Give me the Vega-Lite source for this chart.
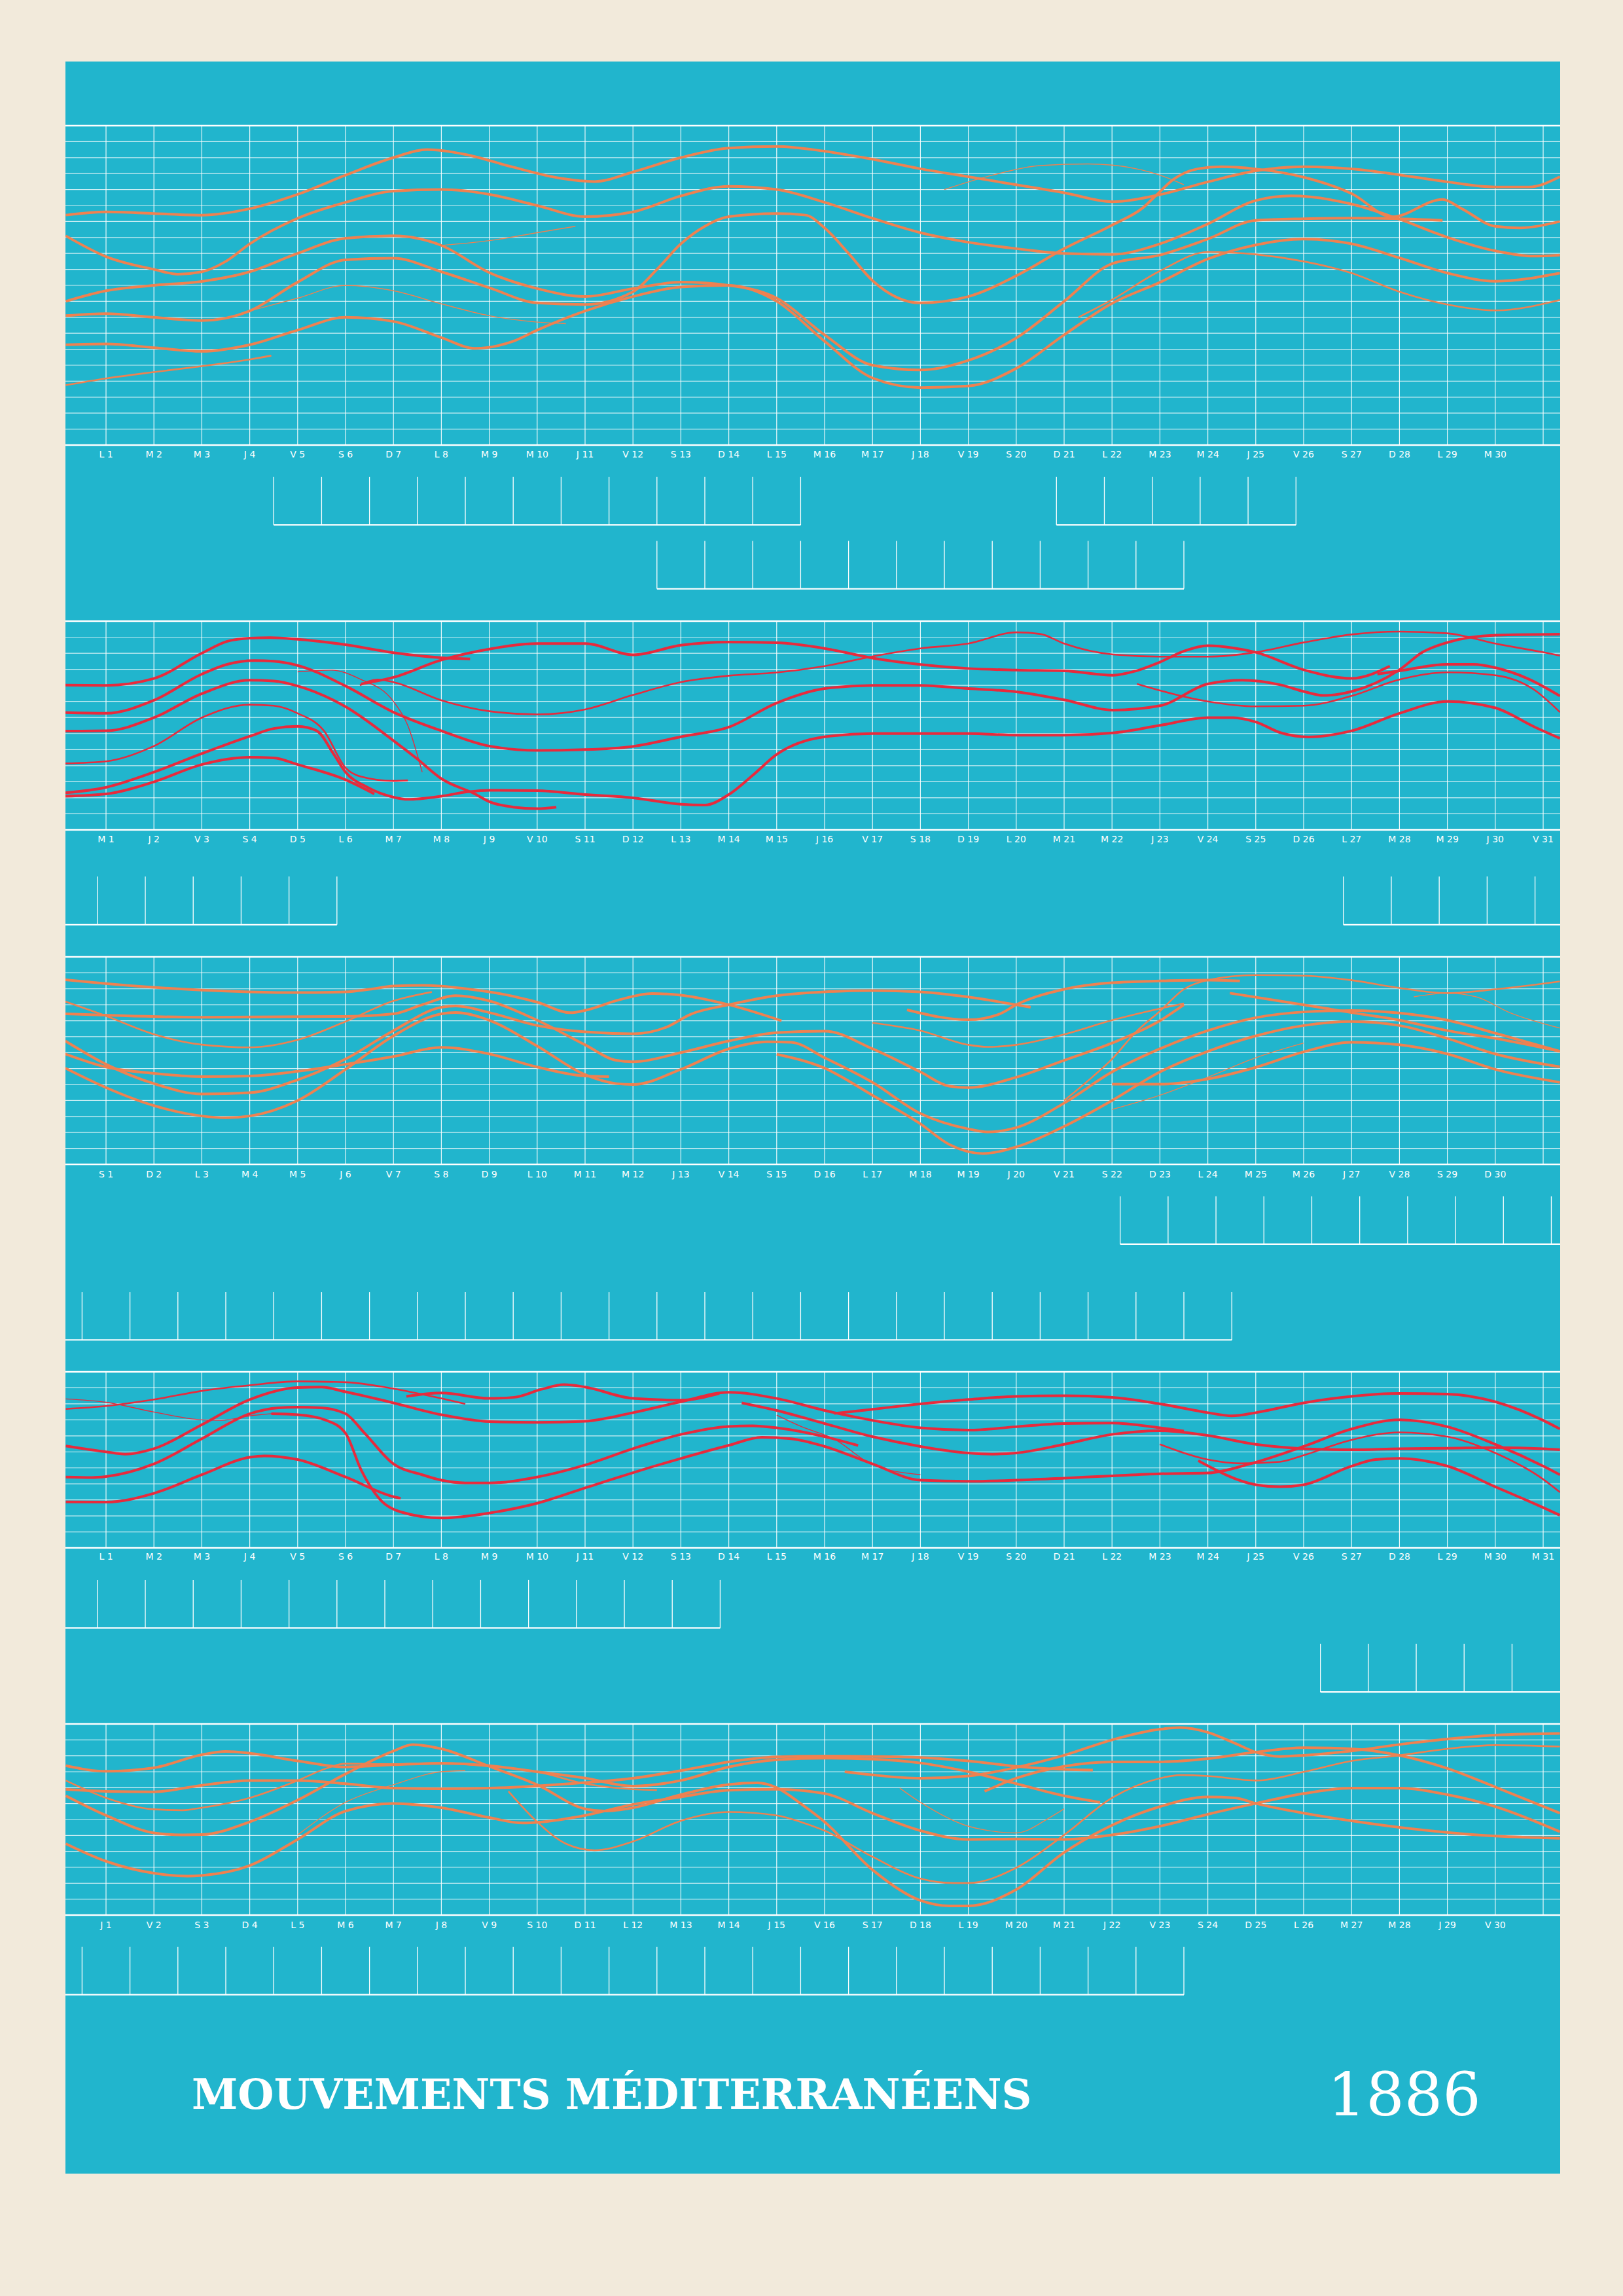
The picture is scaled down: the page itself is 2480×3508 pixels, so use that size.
{
"$schema":"https://vega.github.io/schema/vega-lite/v6.json",
"background":"#F2EADB",
"padding":{"left":98,"top":94,"right":98,"bottom":187},
"spacing":0,
"bounds":"flush",
"config":{"view":{"stroke":null,"fill":"#21B5CD"},"axis":{"disable":true}},
"datasets":{
"days":[{"d":1},{"d":2},{"d":3},{"d":4},{"d":5},{"d":6},{"d":7},{"d":8},{"d":9},{"d":10},{"d":11},{"d":12},{"d":13},{"d":14},{"d":15},{"d":16},{"d":17},{"d":18},{"d":19},{"d":20},{"d":21},{"d":22},{"d":23},{"d":24},{"d":25},{"d":26},{"d":27},{"d":28},{"d":29},{"d":30},{"d":31}],
"levels":[{"v":0},{"v":1},{"v":2},{"v":3},{"v":4},{"v":5},{"v":6},{"v":7},{"v":8},{"v":9},{"v":10},{"v":11},{"v":12},{"v":13},{"v":14},{"v":15},{"v":16},{"v":17},{"v":18},{"v":19},{"v":20}],
"lab1":[{"d":1,"t":"L 1"},{"d":2,"t":"M 2"},{"d":3,"t":"M 3"},{"d":4,"t":"J 4"},{"d":5,"t":"V 5"},{"d":6,"t":"S 6"},{"d":7,"t":"D 7"},{"d":8,"t":"L 8"},{"d":9,"t":"M 9"},{"d":10,"t":"M 10"},{"d":11,"t":"J 11"},{"d":12,"t":"V 12"},{"d":13,"t":"S 13"},{"d":14,"t":"D 14"},{"d":15,"t":"L 15"},{"d":16,"t":"M 16"},{"d":17,"t":"M 17"},{"d":18,"t":"J 18"},{"d":19,"t":"V 19"},{"d":20,"t":"S 20"},{"d":21,"t":"D 21"},{"d":22,"t":"L 22"},{"d":23,"t":"M 23"},{"d":24,"t":"M 24"},{"d":25,"t":"J 25"},{"d":26,"t":"V 26"},{"d":27,"t":"S 27"},{"d":28,"t":"D 28"},{"d":29,"t":"L 29"},{"d":30,"t":"M 30"}],
"lab2":[{"d":1,"t":"M 1"},{"d":2,"t":"J 2"},{"d":3,"t":"V 3"},{"d":4,"t":"S 4"},{"d":5,"t":"D 5"},{"d":6,"t":"L 6"},{"d":7,"t":"M 7"},{"d":8,"t":"M 8"},{"d":9,"t":"J 9"},{"d":10,"t":"V 10"},{"d":11,"t":"S 11"},{"d":12,"t":"D 12"},{"d":13,"t":"L 13"},{"d":14,"t":"M 14"},{"d":15,"t":"M 15"},{"d":16,"t":"J 16"},{"d":17,"t":"V 17"},{"d":18,"t":"S 18"},{"d":19,"t":"D 19"},{"d":20,"t":"L 20"},{"d":21,"t":"M 21"},{"d":22,"t":"M 22"},{"d":23,"t":"J 23"},{"d":24,"t":"V 24"},{"d":25,"t":"S 25"},{"d":26,"t":"D 26"},{"d":27,"t":"L 27"},{"d":28,"t":"M 28"},{"d":29,"t":"M 29"},{"d":30,"t":"J 30"},{"d":31,"t":"V 31"}],
"lab3":[{"d":1,"t":"S 1"},{"d":2,"t":"D 2"},{"d":3,"t":"L 3"},{"d":4,"t":"M 4"},{"d":5,"t":"M 5"},{"d":6,"t":"J 6"},{"d":7,"t":"V 7"},{"d":8,"t":"S 8"},{"d":9,"t":"D 9"},{"d":10,"t":"L 10"},{"d":11,"t":"M 11"},{"d":12,"t":"M 12"},{"d":13,"t":"J 13"},{"d":14,"t":"V 14"},{"d":15,"t":"S 15"},{"d":16,"t":"D 16"},{"d":17,"t":"L 17"},{"d":18,"t":"M 18"},{"d":19,"t":"M 19"},{"d":20,"t":"J 20"},{"d":21,"t":"V 21"},{"d":22,"t":"S 22"},{"d":23,"t":"D 23"},{"d":24,"t":"L 24"},{"d":25,"t":"M 25"},{"d":26,"t":"M 26"},{"d":27,"t":"J 27"},{"d":28,"t":"V 28"},{"d":29,"t":"S 29"},{"d":30,"t":"D 30"}],
"lab4":[{"d":1,"t":"L 1"},{"d":2,"t":"M 2"},{"d":3,"t":"M 3"},{"d":4,"t":"J 4"},{"d":5,"t":"V 5"},{"d":6,"t":"S 6"},{"d":7,"t":"D 7"},{"d":8,"t":"L 8"},{"d":9,"t":"M 9"},{"d":10,"t":"M 10"},{"d":11,"t":"J 11"},{"d":12,"t":"V 12"},{"d":13,"t":"S 13"},{"d":14,"t":"D 14"},{"d":15,"t":"L 15"},{"d":16,"t":"M 16"},{"d":17,"t":"M 17"},{"d":18,"t":"J 18"},{"d":19,"t":"V 19"},{"d":20,"t":"S 20"},{"d":21,"t":"D 21"},{"d":22,"t":"L 22"},{"d":23,"t":"M 23"},{"d":24,"t":"M 24"},{"d":25,"t":"J 25"},{"d":26,"t":"V 26"},{"d":27,"t":"S 27"},{"d":28,"t":"D 28"},{"d":29,"t":"L 29"},{"d":30,"t":"M 30"},{"d":31,"t":"M 31"}],
"lab5":[{"d":1,"t":"J 1"},{"d":2,"t":"V 2"},{"d":3,"t":"S 3"},{"d":4,"t":"D 4"},{"d":5,"t":"L 5"},{"d":6,"t":"M 6"},{"d":7,"t":"M 7"},{"d":8,"t":"J 8"},{"d":9,"t":"V 9"},{"d":10,"t":"S 10"},{"d":11,"t":"D 11"},{"d":12,"t":"L 12"},{"d":13,"t":"M 13"},{"d":14,"t":"M 14"},{"d":15,"t":"J 15"},{"d":16,"t":"V 16"},{"d":17,"t":"S 17"},{"d":18,"t":"D 18"},{"d":19,"t":"L 19"},{"d":20,"t":"M 20"},{"d":21,"t":"M 21"},{"d":22,"t":"J 22"},{"d":23,"t":"V 23"},{"d":24,"t":"S 24"},{"d":25,"t":"D 25"},{"d":26,"t":"L 26"},{"d":27,"t":"M 27"},{"d":28,"t":"M 28"},{"d":29,"t":"J 29"},{"d":30,"t":"V 30"}],
"tk1":[{"d":4.5,"a":-2,"b":-5},{"d":5.5,"a":-2,"b":-5},{"d":6.5,"a":-2,"b":-5},{"d":7.5,"a":-2,"b":-5},{"d":8.5,"a":-2,"b":-5},{"d":9.5,"a":-2,"b":-5},{"d":10.5,"a":-2,"b":-5},{"d":11.5,"a":-2,"b":-5},{"d":12.5,"a":-2,"b":-5},{"d":13.5,"a":-2,"b":-5},{"d":14.5,"a":-2,"b":-5},{"d":15.5,"a":-2,"b":-5},{"d":20.84,"a":-2,"b":-5},{"d":21.84,"a":-2,"b":-5},{"d":22.84,"a":-2,"b":-5},{"d":23.84,"a":-2,"b":-5},{"d":24.84,"a":-2,"b":-5},{"d":25.84,"a":-2,"b":-5},{"d":12.5,"a":-6,"b":-9},{"d":13.5,"a":-6,"b":-9},{"d":14.5,"a":-6,"b":-9},{"d":15.5,"a":-6,"b":-9},{"d":16.5,"a":-6,"b":-9},{"d":17.5,"a":-6,"b":-9},{"d":18.5,"a":-6,"b":-9},{"d":19.5,"a":-6,"b":-9},{"d":20.5,"a":-6,"b":-9},{"d":21.5,"a":-6,"b":-9},{"d":22.5,"a":-6,"b":-9},{"d":23.5,"a":-6,"b":-9}],
"bl1":[{"x0":4.5,"x1":15.5,"b":-5},{"x0":20.84,"x1":25.84,"b":-5},{"x0":12.5,"x1":23.5,"b":-9}],
"tk2":[{"d":0.82,"a":-2.9,"b":-5.9},{"d":1.82,"a":-2.9,"b":-5.9},{"d":2.82,"a":-2.9,"b":-5.9},{"d":3.82,"a":-2.9,"b":-5.9},{"d":4.82,"a":-2.9,"b":-5.9},{"d":5.82,"a":-2.9,"b":-5.9},{"d":26.83,"a":-2.9,"b":-5.9},{"d":27.83,"a":-2.9,"b":-5.9},{"d":28.83,"a":-2.9,"b":-5.9},{"d":29.83,"a":-2.9,"b":-5.9},{"d":30.83,"a":-2.9,"b":-5.9}],
"bl2":[{"x0":0.153,"x1":5.82,"b":-5.9},{"x0":26.83,"x1":31.355,"b":-5.9}],
"tk3":[{"d":22.17,"a":-2,"b":-5},{"d":23.17,"a":-2,"b":-5},{"d":24.17,"a":-2,"b":-5},{"d":25.17,"a":-2,"b":-5},{"d":26.17,"a":-2,"b":-5},{"d":27.17,"a":-2,"b":-5},{"d":28.17,"a":-2,"b":-5},{"d":29.17,"a":-2,"b":-5},{"d":30.17,"a":-2,"b":-5},{"d":31.17,"a":-2,"b":-5},{"d":0.5,"a":-8,"b":-11},{"d":1.5,"a":-8,"b":-11},{"d":2.5,"a":-8,"b":-11},{"d":3.5,"a":-8,"b":-11},{"d":4.5,"a":-8,"b":-11},{"d":5.5,"a":-8,"b":-11},{"d":6.5,"a":-8,"b":-11},{"d":7.5,"a":-8,"b":-11},{"d":8.5,"a":-8,"b":-11},{"d":9.5,"a":-8,"b":-11},{"d":10.5,"a":-8,"b":-11},{"d":11.5,"a":-8,"b":-11},{"d":12.5,"a":-8,"b":-11},{"d":13.5,"a":-8,"b":-11},{"d":14.5,"a":-8,"b":-11},{"d":15.5,"a":-8,"b":-11},{"d":16.5,"a":-8,"b":-11},{"d":17.5,"a":-8,"b":-11},{"d":18.5,"a":-8,"b":-11},{"d":19.5,"a":-8,"b":-11},{"d":20.5,"a":-8,"b":-11},{"d":21.5,"a":-8,"b":-11},{"d":22.5,"a":-8,"b":-11},{"d":23.5,"a":-8,"b":-11},{"d":24.5,"a":-8,"b":-11}],
"bl3":[{"x0":22.17,"x1":31.355,"b":-5},{"x0":0.153,"x1":24.5,"b":-11}],
"tk4":[{"d":0.82,"a":-2,"b":-5},{"d":1.82,"a":-2,"b":-5},{"d":2.82,"a":-2,"b":-5},{"d":3.82,"a":-2,"b":-5},{"d":4.82,"a":-2,"b":-5},{"d":5.82,"a":-2,"b":-5},{"d":6.82,"a":-2,"b":-5},{"d":7.82,"a":-2,"b":-5},{"d":8.82,"a":-2,"b":-5},{"d":9.82,"a":-2,"b":-5},{"d":10.82,"a":-2,"b":-5},{"d":11.82,"a":-2,"b":-5},{"d":12.82,"a":-2,"b":-5},{"d":13.82,"a":-2,"b":-5},{"d":26.35,"a":-6,"b":-9},{"d":27.35,"a":-6,"b":-9},{"d":28.35,"a":-6,"b":-9},{"d":29.35,"a":-6,"b":-9},{"d":30.35,"a":-6,"b":-9}],
"bl4":[{"x0":0.153,"x1":13.82,"b":-5},{"x0":26.35,"x1":31.355,"b":-9}],
"tk5":[{"d":0.5,"a":-2,"b":-5},{"d":1.5,"a":-2,"b":-5},{"d":2.5,"a":-2,"b":-5},{"d":3.5,"a":-2,"b":-5},{"d":4.5,"a":-2,"b":-5},{"d":5.5,"a":-2,"b":-5},{"d":6.5,"a":-2,"b":-5},{"d":7.5,"a":-2,"b":-5},{"d":8.5,"a":-2,"b":-5},{"d":9.5,"a":-2,"b":-5},{"d":10.5,"a":-2,"b":-5},{"d":11.5,"a":-2,"b":-5},{"d":12.5,"a":-2,"b":-5},{"d":13.5,"a":-2,"b":-5},{"d":14.5,"a":-2,"b":-5},{"d":15.5,"a":-2,"b":-5},{"d":16.5,"a":-2,"b":-5},{"d":17.5,"a":-2,"b":-5},{"d":18.5,"a":-2,"b":-5},{"d":19.5,"a":-2,"b":-5},{"d":20.5,"a":-2,"b":-5},{"d":21.5,"a":-2,"b":-5},{"d":22.5,"a":-2,"b":-5},{"d":23.5,"a":-2,"b":-5}],
"bl5":[{"x0":0.153,"x1":23.5,"b":-5}],
"m1":[
{"s":"A","d":0.16,"v":14.4},{"s":"A","d":1,"v":14.6},{"s":"A","d":2,"v":14.5},{"s":"A","d":3,"v":14.4},{"s":"A","d":4,"v":14.8},{"s":"A","d":5,"v":15.7},{"s":"A","d":6,"v":16.9},{"s":"A","d":7,"v":18.0},{"s":"A","d":7.7,"v":18.5},{"s":"A","d":8.5,"v":18.2},{"s":"A","d":9.5,"v":17.4},{"s":"A","d":10.5,"v":16.7},{"s":"A","d":11.2,"v":16.5},{"s":"A","d":12,"v":17.1},{"s":"A","d":13,"v":18.0},{"s":"A","d":14,"v":18.6},{"s":"A","d":15,"v":18.7},{"s":"A","d":16,"v":18.4},{"s":"A","d":17,"v":17.9},{"s":"A","d":18,"v":17.3},{"s":"A","d":19,"v":16.8},{"s":"A","d":20,"v":16.3},{"s":"A","d":21,"v":15.8},{"s":"A","d":22,"v":15.24},{"s":"A","d":23,"v":15.68},{"s":"A","d":24,"v":16.48},{"s":"A","d":25,"v":17.17},{"s":"A","d":26,"v":17.43},{"s":"A","d":27,"v":17.29},{"s":"A","d":28,"v":16.92},{"s":"A","d":29,"v":16.48},{"s":"A","d":30,"v":16.16},{"s":"A","d":30.7,"v":16.16},{"s":"A","d":31.35,"v":16.8},
{"s":"B","d":0.16,"v":13.1},{"s":"B","d":1,"v":11.8},{"s":"B","d":2,"v":11.0},{"s":"B","d":2.5,"v":10.7},{"s":"B","d":3,"v":10.85},{"s":"B","d":3.5,"v":11.5},{"s":"B","d":4,"v":12.6},{"s":"B","d":5,"v":14.2},{"s":"B","d":6,"v":15.2},{"s":"B","d":7,"v":15.9},{"s":"B","d":8,"v":16.0},{"s":"B","d":9,"v":15.7},{"s":"B","d":10,"v":15.0},{"s":"B","d":11,"v":14.3},{"s":"B","d":12,"v":14.6},{"s":"B","d":13,"v":15.6},{"s":"B","d":14,"v":16.2},{"s":"B","d":15,"v":16.0},{"s":"B","d":16,"v":15.2},{"s":"B","d":17,"v":14.2},{"s":"B","d":18,"v":13.3},{"s":"B","d":19,"v":12.7},{"s":"B","d":20,"v":12.3},{"s":"B","d":21,"v":12.0},{"s":"B","d":22,"v":11.94},{"s":"B","d":23,"v":12.6},{"s":"B","d":24,"v":13.85},{"s":"B","d":25,"v":15.31},{"s":"B","d":25.74,"v":15.6},{"s":"B","d":27,"v":15.09},{"s":"B","d":28,"v":14.14},{"s":"B","d":29,"v":13.01},{"s":"B","d":30,"v":12.16},{"s":"B","d":30.8,"v":11.83},{"s":"B","d":31.35,"v":11.9},
{"s":"C","d":0.16,"v":9.0},{"s":"C","d":1,"v":9.66},{"s":"C","d":2,"v":10.0},{"s":"C","d":3,"v":10.25},{"s":"C","d":4,"v":10.85},{"s":"C","d":5,"v":12.0},{"s":"C","d":6,"v":12.95},{"s":"C","d":7,"v":13.1},{"s":"C","d":8,"v":12.5},{"s":"C","d":9,"v":10.8},{"s":"C","d":10,"v":9.8},{"s":"C","d":11,"v":9.3},{"s":"C","d":12,"v":9.8},{"s":"C","d":13,"v":10.2},{"s":"C","d":14,"v":10.0},{"s":"C","d":15,"v":9.2},{"s":"C","d":16,"v":6.9},{"s":"C","d":17,"v":5.0},{"s":"C","d":18,"v":4.7},{"s":"C","d":19,"v":5.3},{"s":"C","d":20,"v":6.7},{"s":"C","d":21,"v":9.0},{"s":"C","d":22,"v":11.36},{"s":"C","d":23,"v":11.9},{"s":"C","d":24,"v":12.9},{"s":"C","d":25,"v":14.07},{"s":"C","d":26,"v":14.17},{"s":"C","d":27,"v":14.21},{"s":"C","d":28,"v":14.17},{"s":"C","d":28.9,"v":14.07},
{"s":"D","d":0.16,"v":8.1},{"s":"D","d":1,"v":8.23},{"s":"D","d":2,"v":8.0},{"s":"D","d":3,"v":7.8},{"s":"D","d":4,"v":8.4},{"s":"D","d":5,"v":10.2},{"s":"D","d":6,"v":11.6},{"s":"D","d":7,"v":11.7},{"s":"D","d":8,"v":10.85},{"s":"D","d":9,"v":9.85},{"s":"D","d":10,"v":8.9},{"s":"D","d":11,"v":8.8},{"s":"D","d":12,"v":9.6},{"s":"D","d":12.5,"v":11.0},{"s":"D","d":13,"v":12.6},{"s":"D","d":13.5,"v":13.7},{"s":"D","d":14,"v":14.3},{"s":"D","d":15,"v":14.5},{"s":"D","d":15.6,"v":14.4},{"s":"D","d":16,"v":13.6},{"s":"D","d":16.5,"v":12.0},{"s":"D","d":17,"v":10.3},{"s":"D","d":18,"v":8.9},{"s":"D","d":19,"v":9.3},{"s":"D","d":20,"v":10.6},{"s":"D","d":21,"v":12.3},{"s":"D","d":22,"v":13.77},{"s":"D","d":22.65,"v":14.87},{"s":"D","d":22.96,"v":15.75},{"s":"D","d":23.28,"v":16.63},{"s":"D","d":23.78,"v":17.29},{"s":"D","d":24.28,"v":17.43},{"s":"D","d":25,"v":17.29},{"s":"D","d":26,"v":16.77},{"s":"D","d":27,"v":15.75},{"s":"D","d":27.85,"v":14.29},{"s":"D","d":28.9,"v":15.38},{"s":"D","d":29.3,"v":14.8},{"s":"D","d":30,"v":13.7},{"s":"D","d":30.5,"v":13.6},{"s":"D","d":31.35,"v":14.0},
{"s":"E","d":0.16,"v":6.28},{"s":"E","d":1,"v":6.33},{"s":"E","d":2,"v":6.1},{"s":"E","d":3,"v":5.87},{"s":"E","d":4,"v":6.28},{"s":"E","d":5,"v":7.2},{"s":"E","d":6,"v":8.0},{"s":"E","d":7,"v":7.74},{"s":"E","d":8,"v":6.73},{"s":"E","d":8.7,"v":6.06},{"s":"E","d":9.5,"v":6.5},{"s":"E","d":10,"v":7.2},{"s":"E","d":11,"v":8.4},{"s":"E","d":12,"v":9.3},{"s":"E","d":13,"v":9.9},{"s":"E","d":14,"v":10.0},{"s":"E","d":15,"v":9.0},{"s":"E","d":16,"v":6.5},{"s":"E","d":17,"v":4.2},{"s":"E","d":18,"v":3.6},{"s":"E","d":19,"v":3.7},{"s":"E","d":20,"v":4.8},{"s":"E","d":21,"v":6.9},{"s":"E","d":22,"v":8.87},{"s":"E","d":23,"v":10.19},{"s":"E","d":24,"v":11.65},{"s":"E","d":25,"v":12.53},{"s":"E","d":26,"v":12.9},{"s":"E","d":27,"v":12.6},{"s":"E","d":28,"v":11.72},{"s":"E","d":29,"v":10.77},{"s":"E","d":30,"v":10.26},{"s":"E","d":31.35,"v":10.77},
{"s":"F","d":4,"v":8.4},{"s":"F","d":5,"v":9.2},{"s":"F","d":6,"v":10.0},{"s":"F","d":7,"v":9.66},{"s":"F","d":8,"v":8.84},{"s":"F","d":9,"v":8.1},{"s":"F","d":10,"v":7.7},{"s":"F","d":10.6,"v":7.6},
{"s":"G","d":0.16,"v":3.75},{"s":"G","d":1,"v":4.17},{"s":"G","d":2,"v":4.57},{"s":"G","d":3,"v":4.94},{"s":"G","d":4,"v":5.36},{"s":"G","d":4.45,"v":5.6},
{"s":"H","d":8,"v":12.5},{"s":"H","d":9,"v":12.8},{"s":"H","d":10,"v":13.3},{"s":"H","d":10.8,"v":13.7},
{"s":"T","d":18.5,"v":16.0},{"s":"T","d":19.5,"v":16.9},{"s":"T","d":20.5,"v":17.5},{"s":"T","d":21.5,"v":17.6},{"s":"T","d":22,"v":17.53},{"s":"T","d":23,"v":16.9},{"s":"T","d":23.5,"v":16.3},
{"s":"R","d":21.3,"v":8.0},{"s":"R","d":22,"v":9.1},{"s":"R","d":23,"v":10.9},{"s":"R","d":24,"v":12.09},{"s":"R","d":25,"v":11.94},{"s":"R","d":26,"v":11.5},{"s":"R","d":27,"v":10.77},{"s":"R","d":28,"v":9.6},{"s":"R","d":29,"v":8.8},{"s":"R","d":30,"v":8.43},{"s":"R","d":31.35,"v":9.09}
],
"m2":[
{"s":"R1","d":0.15,"v":9.02},{"s":"R1","d":1,"v":9.0},{"s":"R1","d":2,"v":9.43},{"s":"R1","d":3,"v":11.0},{"s":"R1","d":3.53,"v":11.74},{"s":"R1","d":4,"v":11.94},{"s":"R1","d":4.44,"v":11.97},{"s":"R1","d":5,"v":11.87},{"s":"R1","d":6,"v":11.53},{"s":"R1","d":7,"v":11.03},{"s":"R1","d":8,"v":10.72},{"s":"R1","d":8.6,"v":10.65},
{"s":"TR","d":6.32,"v":9.09},{"s":"TR","d":7,"v":9.5},{"s":"TR","d":8,"v":10.58},{"s":"TR","d":9,"v":11.26},{"s":"TR","d":10,"v":11.6},{"s":"TR","d":11,"v":11.6},{"s":"TR","d":12,"v":10.9},{"s":"TR","d":13,"v":11.5},{"s":"TR","d":14,"v":11.7},{"s":"TR","d":15,"v":11.65},{"s":"TR","d":16,"v":11.3},{"s":"TR","d":17,"v":10.7},{"s":"TR","d":18,"v":10.3},{"s":"TR","d":19,"v":10.05},{"s":"TR","d":20,"v":9.95},{"s":"TR","d":21,"v":9.9},{"s":"TR","d":22.02,"v":9.63},{"s":"TR","d":22.5,"v":9.9},{"s":"TR","d":23,"v":10.45},{"s":"TR","d":23.5,"v":11.13},{"s":"TR","d":24,"v":11.47},{"s":"TR","d":24.53,"v":11.33},{"s":"TR","d":25,"v":11.06},{"s":"TR","d":26,"v":9.97},{"s":"TR","d":27,"v":9.43},{"s":"TR","d":27.8,"v":10.2},
{"s":"R8","d":6.3,"v":9.0},{"s":"R8","d":6.67,"v":9.36},{"s":"R8","d":7,"v":9.2},{"s":"R8","d":8,"v":8.07},{"s":"R8","d":9,"v":7.39},{"s":"R8","d":10,"v":7.19},{"s":"R8","d":11,"v":7.5},{"s":"R8","d":12,"v":8.4},{"s":"R8","d":13,"v":9.2},{"s":"R8","d":14,"v":9.6},{"s":"R8","d":15,"v":9.8},{"s":"R8","d":16,"v":10.2},{"s":"R8","d":17,"v":10.8},{"s":"R8","d":18,"v":11.3},{"s":"R8","d":19,"v":11.6},{"s":"R8","d":20,"v":12.3},{"s":"R8","d":20.5,"v":12.2},{"s":"R8","d":21,"v":11.6},{"s":"R8","d":22.02,"v":10.92},{"s":"R8","d":23,"v":10.79},{"s":"R8","d":24,"v":10.79},{"s":"R8","d":25,"v":11.06},{"s":"R8","d":26,"v":11.67},{"s":"R8","d":27,"v":12.17},{"s":"R8","d":28,"v":12.35},{"s":"R8","d":29,"v":12.24},{"s":"R8","d":30,"v":11.6},{"s":"R8","d":31,"v":11.06},{"s":"R8","d":31.35,"v":10.85},
{"s":"R2","d":0.15,"v":7.3},{"s":"R2","d":1,"v":7.26},{"s":"R2","d":2,"v":8.07},{"s":"R2","d":3,"v":9.7},{"s":"R2","d":3.53,"v":10.31},{"s":"R2","d":4.1,"v":10.54},{"s":"R2","d":4.5,"v":10.5},{"s":"R2","d":5,"v":10.24},{"s":"R2","d":6,"v":8.96},{"s":"R2","d":7,"v":7.33},{"s":"R2","d":8,"v":6.17},{"s":"R2","d":9,"v":5.22},{"s":"R2","d":10,"v":4.95},{"s":"R2","d":11,"v":5.0},{"s":"R2","d":12,"v":5.2},{"s":"R2","d":13,"v":5.8},{"s":"R2","d":14,"v":6.4},{"s":"R2","d":15,"v":7.9},{"s":"R2","d":16,"v":8.8},{"s":"R2","d":17,"v":9.0},{"s":"R2","d":18,"v":9.0},{"s":"R2","d":19,"v":8.8},{"s":"R2","d":20,"v":8.6},{"s":"R2","d":21,"v":8.1},{"s":"R2","d":22.02,"v":7.46},{"s":"R2","d":23,"v":7.73},{"s":"R2","d":24,"v":9.09},{"s":"R2","d":24.72,"v":9.32},{"s":"R2","d":25.53,"v":9.02},{"s":"R2","d":26,"v":8.62},{"s":"R2","d":26.41,"v":8.37},{"s":"R2","d":27,"v":8.62},{"s":"R2","d":28,"v":9.97},{"s":"R2","d":28.48,"v":11.06},{"s":"R2","d":29,"v":11.67},{"s":"R2","d":30,"v":12.12},{"s":"R2","d":31.35,"v":12.18},
{"s":"R3","d":0.15,"v":6.15},{"s":"R3","d":1,"v":6.17},{"s":"R3","d":2,"v":6.99},{"s":"R3","d":3,"v":8.48},{"s":"R3","d":4,"v":9.32},{"s":"R3","d":4.5,"v":9.27},{"s":"R3","d":5,"v":8.96},{"s":"R3","d":6,"v":7.67},{"s":"R3","d":7,"v":5.56},{"s":"R3","d":7.5,"v":4.41},{"s":"R3","d":8,"v":3.19},{"s":"R3","d":8.7,"v":2.24},{"s":"R3","d":9,"v":1.76},{"s":"R3","d":9.5,"v":1.42},{"s":"R3","d":10,"v":1.32},{"s":"R3","d":10.4,"v":1.42},
{"s":"R4","d":0.15,"v":4.14},{"s":"R4","d":1,"v":4.27},{"s":"R4","d":2,"v":5.22},{"s":"R4","d":3,"v":6.99},{"s":"R4","d":4,"v":7.8},{"s":"R4","d":4.5,"v":7.73},{"s":"R4","d":5,"v":7.26},{"s":"R4","d":5.55,"v":6.17},{"s":"R4","d":6,"v":3.87},{"s":"R4","d":6.32,"v":3.32},{"s":"R4","d":7,"v":3.05},{"s":"R4","d":7.3,"v":3.08},
{"s":"R5","d":0.15,"v":2.31},{"s":"R5","d":1,"v":2.65},{"s":"R5","d":2,"v":3.6},{"s":"R5","d":3,"v":4.75},{"s":"R5","d":4,"v":5.83},{"s":"R5","d":4.5,"v":6.31},{"s":"R5","d":5,"v":6.45},{"s":"R5","d":5.4,"v":6.17},{"s":"R5","d":5.76,"v":4.68},{"s":"R5","d":6,"v":3.6},{"s":"R5","d":6.46,"v":2.65},{"s":"R5","d":7,"v":2.04},{"s":"R5","d":7.3,"v":1.9},{"s":"R5","d":8,"v":2.1},{"s":"R5","d":8.55,"v":2.37},{"s":"R5","d":9,"v":2.47},{"s":"R5","d":10,"v":2.44},{"s":"R5","d":11,"v":2.2},{"s":"R5","d":12,"v":2.0},{"s":"R5","d":13,"v":1.6},{"s":"R5","d":13.5,"v":1.55},{"s":"R5","d":14,"v":2.2},{"s":"R5","d":14.5,"v":3.4},{"s":"R5","d":15,"v":4.7},{"s":"R5","d":16,"v":5.8},{"s":"R5","d":17,"v":6.0},{"s":"R5","d":18,"v":6.0},{"s":"R5","d":19,"v":6.0},{"s":"R5","d":20,"v":5.9},{"s":"R5","d":21,"v":5.9},{"s":"R5","d":22.02,"v":6.04},{"s":"R5","d":23,"v":6.51},{"s":"R5","d":24,"v":6.99},{"s":"R5","d":24.53,"v":6.99},{"s":"R5","d":25,"v":6.72},{"s":"R5","d":25.53,"v":6.04},{"s":"R5","d":26.1,"v":5.79},{"s":"R5","d":27,"v":6.17},{"s":"R5","d":28,"v":7.26},{"s":"R5","d":29,"v":8.0},{"s":"R5","d":30,"v":7.6},{"s":"R5","d":30.8,"v":6.44},{"s":"R5","d":31.35,"v":5.7},
{"s":"R6","d":0.15,"v":2.1},{"s":"R6","d":1,"v":2.24},{"s":"R6","d":2,"v":2.99},{"s":"R6","d":3,"v":4.07},{"s":"R6","d":4,"v":4.52},{"s":"R6","d":4.5,"v":4.48},{"s":"R6","d":5,"v":4.07},{"s":"R6","d":6,"v":3.12},{"s":"R6","d":6.6,"v":2.24},
{"s":"R7","d":5,"v":9.84},{"s":"R7","d":5.7,"v":9.95},{"s":"R7","d":6.3,"v":9.4},{"s":"R7","d":7,"v":8.0},{"s":"R7","d":7.3,"v":6.5},{"s":"R7","d":7.6,"v":3.6},
{"s":"Z5d","d":22.52,"v":9.09},{"s":"Z5d","d":24,"v":8.0},{"s":"Z5d","d":25,"v":7.69},{"s":"Z5d","d":26,"v":7.73},{"s":"Z5d","d":27,"v":8.34},{"s":"Z5d","d":28,"v":9.36},{"s":"Z5d","d":29,"v":9.81},{"s":"Z5d","d":30,"v":9.63},{"s":"Z5d","d":30.8,"v":8.75},{"s":"Z5d","d":31.35,"v":7.33},
{"s":"Z5e","d":27.54,"v":9.7},{"s":"Z5e","d":28,"v":9.9},{"s":"Z5e","d":29,"v":10.31},{"s":"Z5e","d":29.54,"v":10.31},{"s":"Z5e","d":30,"v":10.1},{"s":"Z5e","d":30.67,"v":9.43},{"s":"Z5e","d":31.35,"v":8.34}
],
"m3":[
{"s":"L1","d":0.15,"v":11.57},{"s":"L1","d":2,"v":11.09},{"s":"L1","d":3,"v":10.92},{"s":"L1","d":4,"v":10.81},{"s":"L1","d":5,"v":10.76},{"s":"L1","d":6,"v":10.81},{"s":"L1","d":6.5,"v":10.97},{"s":"L1","d":7,"v":11.17},{"s":"L1","d":7.6,"v":11.22},{"s":"L1","d":8,"v":11.17},{"s":"L1","d":8.6,"v":10.97},{"s":"L1","d":9,"v":10.81},{"s":"L1","d":10,"v":10.16},{"s":"L1","d":10.7,"v":9.5},{"s":"L1","d":11,"v":9.65},{"s":"L1","d":11.7,"v":10.3},{"s":"L1","d":12.4,"v":10.7},{"s":"L1","d":13,"v":10.6},{"s":"L1","d":14,"v":10.0},{"s":"L1","d":15.1,"v":9.0},
{"s":"L2","d":0.15,"v":9.43},{"s":"L2","d":3,"v":9.22},{"s":"L2","d":6,"v":9.27},{"s":"L2","d":7,"v":9.43},{"s":"L2","d":7.6,"v":10.0},{"s":"L2","d":8.3,"v":10.57},{"s":"L2","d":9,"v":10.24},{"s":"L2","d":10,"v":9.03},{"s":"L2","d":11,"v":7.49},{"s":"L2","d":11.65,"v":6.52},{"s":"L2","d":12,"v":6.43},{"s":"L2","d":13,"v":7.0},{"s":"L2","d":14,"v":7.73},{"s":"L2","d":15,"v":8.25},{"s":"L2","d":16,"v":8.35},{"s":"L2","d":17,"v":7.24},{"s":"L2","d":18,"v":5.79},{"s":"L2","d":18.6,"v":4.9},{"s":"L2","d":19,"v":4.81},{"s":"L2","d":20,"v":5.46},{"s":"L2","d":21,"v":6.52},{"s":"L2","d":22,"v":7.6},{"s":"L2","d":23,"v":9.0},{"s":"L2","d":23.5,"v":10.0},
{"s":"L3","d":0.15,"v":10.2},{"s":"L3","d":1,"v":9.3},{"s":"L3","d":2,"v":8.15},{"s":"L3","d":3,"v":7.5},{"s":"L3","d":4,"v":7.33},{"s":"L3","d":5,"v":7.8},{"s":"L3","d":6,"v":8.95},{"s":"L3","d":7,"v":10.24},{"s":"L3","d":7.8,"v":10.8},
{"s":"L4","d":0.15,"v":6.92},{"s":"L4","d":1,"v":6.1},{"s":"L4","d":2,"v":5.7},{"s":"L4","d":3,"v":5.5},{"s":"L4","d":4,"v":5.54},{"s":"L4","d":5,"v":5.83},{"s":"L4","d":6,"v":6.27},{"s":"L4","d":7,"v":6.76},{"s":"L4","d":8,"v":7.33},{"s":"L4","d":9,"v":6.92},{"s":"L4","d":10,"v":6.1},{"s":"L4","d":11,"v":5.54},{"s":"L4","d":11.5,"v":5.5},
{"s":"L5","d":0.15,"v":7.73},{"s":"L5","d":1,"v":6.27},{"s":"L5","d":2,"v":5.06},{"s":"L5","d":3,"v":4.41},{"s":"L5","d":4,"v":4.49},{"s":"L5","d":5,"v":5.3},{"s":"L5","d":6,"v":6.6},{"s":"L5","d":7,"v":8.38},{"s":"L5","d":8,"v":9.84},{"s":"L5","d":8.3,"v":9.92},{"s":"L5","d":9,"v":9.51},{"s":"L5","d":10,"v":8.7},{"s":"L5","d":11,"v":8.3},{"s":"L5","d":12,"v":8.18},{"s":"L5","d":12.7,"v":8.6},{"s":"L5","d":13.2,"v":9.4},{"s":"L5","d":14,"v":10.0},{"s":"L5","d":15,"v":10.57},{"s":"L5","d":16,"v":10.81},{"s":"L5","d":17,"v":10.89},{"s":"L5","d":18,"v":10.81},{"s":"L5","d":19,"v":10.49},{"s":"L5","d":20,"v":10.0},{"s":"L5","d":20.3,"v":9.84},
{"s":"L6","d":0.15,"v":6.03},{"s":"L6","d":1,"v":4.81},{"s":"L6","d":2,"v":3.68},{"s":"L6","d":3,"v":3.03},{"s":"L6","d":3.5,"v":2.92},{"s":"L6","d":4,"v":3.03},{"s":"L6","d":5,"v":4.0},{"s":"L6","d":6,"v":5.95},{"s":"L6","d":7,"v":8.05},{"s":"L6","d":8,"v":9.43},{"s":"L6","d":8.3,"v":9.51},{"s":"L6","d":9,"v":9.03},{"s":"L6","d":10,"v":7.41},{"s":"L6","d":11,"v":5.62},{"s":"L6","d":11.65,"v":5.06},{"s":"L6","d":12,"v":5.0},{"s":"L6","d":13,"v":5.95},{"s":"L6","d":14,"v":7.24},{"s":"L6","d":14.8,"v":7.68},{"s":"L6","d":15.3,"v":7.65},{"s":"L6","d":16,"v":6.68},{"s":"L6","d":17,"v":5.14},{"s":"L6","d":18,"v":3.19},{"s":"L6","d":19,"v":2.22},{"s":"L6","d":19.4,"v":2.03},{"s":"L6","d":20,"v":2.3},{"s":"L6","d":21,"v":3.84},{"s":"L6","d":22,"v":5.79},{"s":"L6","d":23,"v":7.24},{"s":"L6","d":24,"v":8.38},{"s":"L6","d":25,"v":9.19},{"s":"L6","d":26,"v":9.55},{"s":"L6","d":27,"v":9.64},{"s":"L6","d":28,"v":9.48},{"s":"L6","d":29,"v":9.03},{"s":"L6","d":30,"v":8.22},{"s":"L6","d":31.35,"v":7.08},
{"s":"L7","d":15,"v":6.9},{"s":"L7","d":16,"v":6.03},{"s":"L7","d":17,"v":4.33},{"s":"L7","d":18,"v":2.54},{"s":"L7","d":18.6,"v":1.25},{"s":"L7","d":19.3,"v":0.68},{"s":"L7","d":20,"v":1.09},{"s":"L7","d":21,"v":2.38},{"s":"L7","d":22,"v":4.0},{"s":"L7","d":23,"v":5.79},{"s":"L7","d":24,"v":7.08},{"s":"L7","d":25,"v":8.05},{"s":"L7","d":26,"v":8.7},{"s":"L7","d":27,"v":8.95},{"s":"L7","d":28,"v":8.7},{"s":"L7","d":29,"v":7.89},{"s":"L7","d":30,"v":6.92},{"s":"L7","d":31.35,"v":6.11},
{"s":"L8","d":17.72,"v":9.68},{"s":"L8","d":19,"v":9.06},{"s":"L8","d":19.66,"v":9.43},{"s":"L8","d":20,"v":10.0},{"s":"L8","d":21,"v":10.97},{"s":"L8","d":22,"v":11.38},{"s":"L8","d":23,"v":11.49},{"s":"L8","d":24,"v":11.54},{"s":"L8","d":24.67,"v":11.49},
{"s":"L9","d":17,"v":8.87},{"s":"L9","d":18,"v":8.38},{"s":"L9","d":19,"v":7.49},{"s":"L9","d":19.4,"v":7.36},{"s":"L9","d":20,"v":7.49},{"s":"L9","d":21,"v":8.14},{"s":"L9","d":22,"v":9.03},{"s":"L9","d":23,"v":9.76},{"s":"L9","d":23.5,"v":10.08},
{"s":"L10","d":21,"v":4.0},{"s":"L10","d":21.6,"v":5.5},{"s":"L10","d":22,"v":6.6},{"s":"L10","d":22.5,"v":8.3},{"s":"L10","d":23,"v":9.6},{"s":"L10","d":23.5,"v":10.97},{"s":"L10","d":24,"v":11.54},{"s":"L10","d":25,"v":11.86},{"s":"L10","d":26,"v":11.82},{"s":"L10","d":27,"v":11.54},{"s":"L10","d":28,"v":11.05},{"s":"L10","d":29,"v":10.73},{"s":"L10","d":30,"v":10.97},{"s":"L10","d":31.35,"v":11.46},
{"s":"L11","d":24.46,"v":10.73},{"s":"L11","d":26,"v":10.0},{"s":"L11","d":27,"v":9.51},{"s":"L11","d":28,"v":9.03},{"s":"L11","d":29,"v":8.38},{"s":"L11","d":30,"v":7.89},{"s":"L11","d":31.35,"v":7.08},
{"s":"L12","d":28.3,"v":10.5},{"s":"L12","d":29,"v":10.73},{"s":"L12","d":29.6,"v":10.5},{"s":"L12","d":30.3,"v":9.51},{"s":"L12","d":31.35,"v":8.54},
{"s":"L13","d":22,"v":5.02},{"s":"L13","d":23,"v":5.02},{"s":"L13","d":24,"v":5.35},{"s":"L13","d":25,"v":6.08},{"s":"L13","d":26,"v":7.05},{"s":"L13","d":27,"v":7.65},{"s":"L13","d":28,"v":7.49},{"s":"L13","d":29,"v":6.92},{"s":"L13","d":30,"v":5.95},{"s":"L13","d":31.35,"v":5.14},
{"s":"L14","d":22,"v":3.44},{"s":"L14","d":23,"v":4.33},{"s":"L14","d":24,"v":5.46},{"s":"L14","d":25,"v":6.68},{"s":"L14","d":26,"v":7.6}
],
"m4":[
{"s":"K1","d":0.16,"v":8.68},{"s":"K1","d":1,"v":8.86},{"s":"K1","d":2,"v":9.27},{"s":"K1","d":3,"v":9.81},{"s":"K1","d":4,"v":10.16},{"s":"K1","d":5,"v":10.4},{"s":"K1","d":6,"v":10.35},{"s":"K1","d":7,"v":9.95},{"s":"K1","d":8,"v":9.34},{"s":"K1","d":8.5,"v":9.0},
{"s":"K2","d":0.16,"v":6.37},{"s":"K2","d":1,"v":6.0},{"s":"K2","d":1.4,"v":5.86},{"s":"K2","d":2,"v":6.2},{"s":"K2","d":3,"v":7.7},{"s":"K2","d":4,"v":9.27},{"s":"K2","d":5,"v":10.02},{"s":"K2","d":5.5,"v":10.05},{"s":"K2","d":6,"v":9.75},{"s":"K2","d":7,"v":9.06},{"s":"K2","d":8,"v":8.32},{"s":"K2","d":9,"v":7.89},{"s":"K2","d":10,"v":7.84},{"s":"K2","d":11,"v":7.91},{"s":"K2","d":12,"v":8.45},{"s":"K2","d":13,"v":9.13},{"s":"K2","d":14,"v":9.72},{"s":"K2","d":15,"v":9.34},{"s":"K2","d":16,"v":8.59},{"s":"K2","d":17,"v":7.97},{"s":"K2","d":18,"v":7.5},{"s":"K2","d":19,"v":7.36},{"s":"K2","d":20,"v":7.57},{"s":"K2","d":21,"v":7.77},{"s":"K2","d":22,"v":7.8},{"s":"K2","d":23,"v":7.5},{"s":"K2","d":23.5,"v":7.3},
{"s":"KA","d":7.27,"v":9.47},{"s":"KA","d":8,"v":9.68},{"s":"KA","d":9,"v":9.34},{"s":"KA","d":9.52,"v":9.41},{"s":"KA","d":10.09,"v":9.91},{"s":"KA","d":10.56,"v":10.2},{"s":"KA","d":11,"v":10.05},{"s":"KA","d":12,"v":9.34},{"s":"KA","d":13,"v":9.23},{"s":"KA","d":13.8,"v":9.65},
{"s":"K3","d":0.16,"v":9.31},{"s":"K3","d":1,"v":9.1},{"s":"K3","d":2,"v":8.49},{"s":"K3","d":3,"v":8.0},{"s":"K3","d":3.4,"v":7.97},{"s":"K3","d":4,"v":8.25},{"s":"K3","d":4.5,"v":8.4},
{"s":"K5","d":0.16,"v":4.43},{"s":"K5","d":0.7,"v":4.4},{"s":"K5","d":1,"v":4.46},{"s":"K5","d":2,"v":5.25},{"s":"K5","d":3,"v":6.82},{"s":"K5","d":4,"v":8.38},{"s":"K5","d":4.6,"v":8.75},{"s":"K5","d":5,"v":8.79},{"s":"K5","d":5.5,"v":8.75},{"s":"K5","d":6,"v":8.38},{"s":"K5","d":6.4,"v":7.16},{"s":"K5","d":7,"v":5.25},{"s":"K5","d":7.6,"v":4.57},{"s":"K5","d":8,"v":4.23},{"s":"K5","d":8.5,"v":4.06},{"s":"K5","d":9,"v":4.06},{"s":"K5","d":10,"v":4.43},{"s":"K5","d":11,"v":5.18},{"s":"K5","d":12,"v":6.2},{"s":"K5","d":13,"v":7.09},{"s":"K5","d":14,"v":7.59},{"s":"K5","d":14.5,"v":7.63},{"s":"K5","d":15,"v":7.5},{"s":"K5","d":16,"v":6.95},{"s":"K5","d":16.7,"v":6.4},
{"s":"K6","d":0.16,"v":2.87},{"s":"K6","d":1,"v":2.86},{"s":"K6","d":2,"v":3.41},{"s":"K6","d":3,"v":4.57},{"s":"K6","d":4,"v":5.66},{"s":"K6","d":4.3,"v":5.75},{"s":"K6","d":5,"v":5.52},{"s":"K6","d":6,"v":4.43},{"s":"K6","d":7,"v":3.2},{"s":"K6","d":7.15,"v":3.1},
{"s":"K7","d":4.45,"v":8.38},{"s":"K7","d":5,"v":8.32},{"s":"K7","d":5.6,"v":7.97},{"s":"K7","d":6,"v":7.16},{"s":"K7","d":6.33,"v":4.84},{"s":"K7","d":6.75,"v":2.93},{"s":"K7","d":7.15,"v":2.25},{"s":"K7","d":8,"v":1.87},{"s":"K7","d":9,"v":2.18},{"s":"K7","d":10,"v":2.79},{"s":"K7","d":11,"v":3.75},{"s":"K7","d":12,"v":4.7},{"s":"K7","d":13,"v":5.59},{"s":"K7","d":14,"v":6.41},{"s":"K7","d":14.69,"v":6.91},{"s":"K7","d":15.3,"v":6.82},{"s":"K7","d":16,"v":6.34},{"s":"K7","d":17,"v":5.25},{"s":"K7","d":18,"v":4.23},{"s":"K7","d":19,"v":4.16},{"s":"K7","d":20,"v":4.23},{"s":"K7","d":21,"v":4.36},{"s":"K7","d":22,"v":4.5},{"s":"K7","d":23,"v":4.63},{"s":"K7","d":24,"v":4.68},{"s":"K7","d":24.88,"v":5.25},{"s":"K7","d":26,"v":6.34},{"s":"K7","d":27,"v":7.43},{"s":"K7","d":28,"v":8.0},{"s":"K7","d":29,"v":7.57},{"s":"K7","d":30,"v":6.47},{"s":"K7","d":31,"v":5.11},{"s":"K7","d":31.35,"v":4.57},
{"s":"Kr","d":14.27,"v":9.06},{"s":"Kr","d":15,"v":8.59},{"s":"Kr","d":16,"v":7.77},{"s":"Kr","d":17,"v":6.95},{"s":"Kr","d":18,"v":6.34},{"s":"Kr","d":19,"v":5.93},{"s":"Kr","d":19.5,"v":5.86},{"s":"Kr","d":20,"v":5.93},{"s":"Kr","d":21,"v":6.47},{"s":"Kr","d":22,"v":7.09},{"s":"Kr","d":23,"v":7.32},{"s":"Kr","d":24,"v":7.02},{"s":"Kr","d":25,"v":6.47},{"s":"Kr","d":26,"v":6.2},{"s":"Kr","d":27,"v":6.13},{"s":"Kr","d":28,"v":6.2},{"s":"Kr","d":29,"v":6.23},{"s":"Kr","d":30,"v":6.27},{"s":"Kr","d":31,"v":6.2},{"s":"Kr","d":31.35,"v":6.13},
{"s":"Kv","d":15,"v":8.3},{"s":"Kv","d":15.5,"v":7.6},{"s":"Kv","d":16.2,"v":6.8},{"s":"Kv","d":17,"v":5.2},{"s":"Kv","d":18,"v":4.57},
{"s":"Kt","d":23,"v":6.47},{"s":"Kt","d":24,"v":5.52},{"s":"Kt","d":24.7,"v":5.28},{"s":"Kt","d":25.5,"v":5.38},{"s":"Kt","d":26,"v":5.79},{"s":"Kt","d":27,"v":6.75},{"s":"Kt","d":28,"v":7.22},{"s":"Kt","d":29,"v":6.95},{"s":"Kt","d":30,"v":5.93},{"s":"Kt","d":31,"v":4.29},{"s":"Kt","d":31.35,"v":3.48},
{"s":"Ku","d":23.8,"v":5.45},{"s":"Ku","d":25,"v":3.95},{"s":"Ku","d":25.5,"v":3.82},{"s":"Ku","d":26,"v":3.95},{"s":"Ku","d":27,"v":5.11},{"s":"Ku","d":27.5,"v":5.52},{"s":"Ku","d":28,"v":5.59},{"s":"Ku","d":29,"v":5.11},{"s":"Ku","d":30,"v":3.82},{"s":"Ku","d":31,"v":2.52},{"s":"Ku","d":31.35,"v":2.04},
{"s":"Kp","d":16.2,"v":8.4},{"s":"Kp","d":17,"v":8.66},{"s":"Kp","d":18,"v":9.0},{"s":"Kp","d":19,"v":9.27},{"s":"Kp","d":20,"v":9.47},{"s":"Kp","d":21,"v":9.51},{"s":"Kp","d":22,"v":9.41},{"s":"Kp","d":23,"v":9.0},{"s":"Kp","d":24,"v":8.45},{"s":"Kp","d":24.5,"v":8.25},{"s":"Kp","d":25,"v":8.45},{"s":"Kp","d":26,"v":9.06},{"s":"Kp","d":27,"v":9.47},{"s":"Kp","d":28,"v":9.65},{"s":"Kp","d":29,"v":9.61},{"s":"Kp","d":30,"v":9.13},{"s":"Kp","d":31,"v":7.97},{"s":"Kp","d":31.35,"v":7.43}
],
"m5":[
{"s":"P1","d":16.42,"v":9.0},{"s":"P1","d":17,"v":8.8},{"s":"P1","d":18,"v":8.59},{"s":"P1","d":19,"v":8.73},{"s":"P1","d":20,"v":9.27},{"s":"P1","d":21,"v":10.03},{"s":"P1","d":22,"v":11.0},{"s":"P1","d":23,"v":11.67},{"s":"P1","d":23.42,"v":11.77},{"s":"P1","d":24,"v":11.47},{"s":"P1","d":24.57,"v":10.78},{"s":"P1","d":25,"v":10.23},{"s":"P1","d":25.5,"v":9.96},{"s":"P1","d":26,"v":10.03},{"s":"P1","d":27,"v":10.3},{"s":"P1","d":28,"v":10.71},{"s":"P1","d":29,"v":11.05},{"s":"P1","d":30,"v":11.3},{"s":"P1","d":31.35,"v":11.4},
{"s":"P2","d":19.34,"v":7.77},{"s":"P2","d":20,"v":8.59},{"s":"P2","d":21,"v":9.34},{"s":"P2","d":22,"v":9.62},{"s":"P2","d":23,"v":9.62},{"s":"P2","d":24,"v":9.82},{"s":"P2","d":25,"v":10.23},{"s":"P2","d":26,"v":10.51},{"s":"P2","d":27,"v":10.44},{"s":"P2","d":28,"v":10.03},{"s":"P2","d":29,"v":9.21},{"s":"P2","d":30,"v":8.04},{"s":"P2","d":31.35,"v":6.4},
{"s":"P3","d":0.16,"v":7.9},{"s":"P3","d":1,"v":7.77},{"s":"P3","d":2,"v":7.74},{"s":"P3","d":3,"v":8.15},{"s":"P3","d":4,"v":8.45},{"s":"P3","d":5,"v":8.45},{"s":"P3","d":6,"v":8.25},{"s":"P3","d":7,"v":7.97},{"s":"P3","d":8,"v":7.93},{"s":"P3","d":9,"v":7.97},{"s":"P3","d":10,"v":8.11},{"s":"P3","d":11,"v":8.32},{"s":"P3","d":12,"v":8.59},{"s":"P3","d":13,"v":9.07},{"s":"P3","d":14,"v":9.62},{"s":"P3","d":15,"v":9.93},{"s":"P3","d":16,"v":9.99},{"s":"P3","d":17,"v":9.96},{"s":"P3","d":18,"v":9.89},{"s":"P3","d":19,"v":9.68},{"s":"P3","d":20,"v":9.34},{"s":"P3","d":21,"v":9.14},{"s":"P3","d":21.6,"v":9.1},
{"s":"P4","d":0.16,"v":9.38},{"s":"P4","d":1,"v":9.03},{"s":"P4","d":2,"v":9.25},{"s":"P4","d":3,"v":10.07},{"s":"P4","d":3.5,"v":10.27},{"s":"P4","d":4,"v":10.16},{"s":"P4","d":5,"v":9.68},{"s":"P4","d":6,"v":9.3},{"s":"P4","d":7,"v":9.44},{"s":"P4","d":8,"v":9.52},{"s":"P4","d":9,"v":9.38},{"s":"P4","d":10,"v":9.0},{"s":"P4","d":11,"v":8.6},{"s":"P4","d":12,"v":8.1},{"s":"P4","d":13,"v":8.45},{"s":"P4","d":14,"v":9.3},{"s":"P4","d":15,"v":9.75},{"s":"P4","d":16,"v":9.85},{"s":"P4","d":17,"v":9.79},{"s":"P4","d":18,"v":9.55},{"s":"P4","d":19,"v":9.0},{"s":"P4","d":20,"v":8.25},{"s":"P4","d":21,"v":7.49},{"s":"P4","d":21.75,"v":7.08},
{"s":"P5","d":0.16,"v":4.48},{"s":"P5","d":1,"v":3.38},{"s":"P5","d":2,"v":2.63},{"s":"P5","d":2.7,"v":2.45},{"s":"P5","d":3,"v":2.49},{"s":"P5","d":4,"v":3.11},{"s":"P5","d":5,"v":4.75},{"s":"P5","d":6,"v":6.53},{"s":"P5","d":7,"v":7.01},{"s":"P5","d":8,"v":6.74},{"s":"P5","d":9,"v":6.12},{"s":"P5","d":9.7,"v":5.78},{"s":"P5","d":10.1,"v":5.85},{"s":"P5","d":11,"v":6.26},{"s":"P5","d":12,"v":6.95},{"s":"P5","d":13,"v":7.42},{"s":"P5","d":14,"v":7.84},{"s":"P5","d":15,"v":7.9},{"s":"P5","d":16,"v":7.63},{"s":"P5","d":17,"v":6.4},{"s":"P5","d":18,"v":5.3},{"s":"P5","d":19,"v":4.75},{"s":"P5","d":20,"v":4.78},{"s":"P5","d":21,"v":4.75},{"s":"P5","d":22,"v":5.03},{"s":"P5","d":23,"v":5.58},{"s":"P5","d":24,"v":6.33},{"s":"P5","d":25,"v":7.01},{"s":"P5","d":26,"v":7.63},{"s":"P5","d":27,"v":7.97},{"s":"P5","d":28,"v":7.97},{"s":"P5","d":29,"v":7.56},{"s":"P5","d":30,"v":6.81},{"s":"P5","d":31.35,"v":5.23},
{"s":"P6","d":0.16,"v":7.49},{"s":"P6","d":1,"v":6.26},{"s":"P6","d":2,"v":5.16},{"s":"P6","d":2.6,"v":5.03},{"s":"P6","d":3,"v":5.05},{"s":"P6","d":4,"v":5.85},{"s":"P6","d":5,"v":7.22},{"s":"P6","d":6,"v":8.86},{"s":"P6","d":7,"v":10.3},{"s":"P6","d":7.4,"v":10.71},{"s":"P6","d":8,"v":10.44},{"s":"P6","d":9,"v":9.34},{"s":"P6","d":10,"v":8.18},{"s":"P6","d":11,"v":6.67},{"s":"P6","d":11.4,"v":6.53},{"s":"P6","d":12,"v":6.74},{"s":"P6","d":13,"v":7.56},{"s":"P6","d":14,"v":8.2},{"s":"P6","d":14.6,"v":8.3},{"s":"P6","d":15,"v":8.0},{"s":"P6","d":15.5,"v":7.0},{"s":"P6","d":16,"v":5.85},{"s":"P6","d":17,"v":2.84},{"s":"P6","d":18,"v":0.92},{"s":"P6","d":18.6,"v":0.58},{"s":"P6","d":19,"v":0.58},{"s":"P6","d":20,"v":1.6},{"s":"P6","d":21,"v":3.93},{"s":"P6","d":22,"v":5.64},{"s":"P6","d":23,"v":6.81},{"s":"P6","d":24,"v":7.42},{"s":"P6","d":24.57,"v":7.36},{"s":"P6","d":25,"v":7.01},{"s":"P6","d":26,"v":6.4},{"s":"P6","d":27,"v":5.92},{"s":"P6","d":28,"v":5.51},{"s":"P6","d":29,"v":5.19},{"s":"P6","d":30,"v":4.96},{"s":"P6","d":31.35,"v":4.82},
{"s":"P7","d":0.16,"v":8.45},{"s":"P7","d":1,"v":7.36},{"s":"P7","d":2,"v":6.64},{"s":"P7","d":2.6,"v":6.58},{"s":"P7","d":3,"v":6.74},{"s":"P7","d":4,"v":7.36},{"s":"P7","d":5,"v":8.45},{"s":"P7","d":5.6,"v":9.21},{"s":"P7","d":6,"v":9.51},{"s":"P7","d":7,"v":9.48},{"s":"P7","d":8,"v":9.55},{"s":"P7","d":9,"v":9.34},{"s":"P7","d":10,"v":9.0},{"s":"P7","d":11,"v":8.25},{"s":"P7","d":12,"v":7.9},{"s":"P7","d":12.5,"v":7.85},
{"s":"P8","d":5,"v":5.03},{"s":"P8","d":6,"v":7.08},{"s":"P8","d":7,"v":8.18},{"s":"P8","d":8,"v":9.0},{"s":"P8","d":8.5,"v":9.07},
{"s":"P9","d":9.4,"v":7.77},{"s":"P9","d":10,"v":5.85},{"s":"P9","d":10.6,"v":4.48},{"s":"P9","d":11.2,"v":4.07},{"s":"P9","d":12,"v":4.62},{"s":"P9","d":13,"v":5.92},{"s":"P9","d":14,"v":6.47},{"s":"P9","d":15,"v":6.26},{"s":"P9","d":15.5,"v":5.85},{"s":"P9","d":16,"v":5.3},{"s":"P9","d":17,"v":3.66},{"s":"P9","d":18,"v":2.29},{"s":"P9","d":18.7,"v":2.01},{"s":"P9","d":19,"v":2.01},{"s":"P9","d":20,"v":2.97},{"s":"P9","d":21,"v":5.03},{"s":"P9","d":22,"v":7.36},{"s":"P9","d":23,"v":8.59},{"s":"P9","d":23.42,"v":8.79},{"s":"P9","d":24,"v":8.73},{"s":"P9","d":25,"v":8.45},{"s":"P9","d":26,"v":8.99},{"s":"P9","d":27,"v":9.68},{"s":"P9","d":28,"v":10.03},{"s":"P9","d":29,"v":10.44},{"s":"P9","d":30,"v":10.67},{"s":"P9","d":31.35,"v":10.58},
{"s":"P10","d":17.57,"v":7.97},{"s":"P10","d":18,"v":7.08},{"s":"P10","d":19,"v":5.58},{"s":"P10","d":20,"v":5.16},{"s":"P10","d":20.7,"v":6.12},{"s":"P10","d":21,"v":6.67}
]
},
"vconcat":[
{"width":2284,"height":826,"layer":[
{"data":{"name":"levels"},"transform":[{"filter":{"field":"v","lte":20}}],"mark":{"type":"rule","color":"#ffffff","strokeWidth":1.2,"opacity":0.78},"encoding":{"y":{"field":"v","type":"quantitative","scale":{"domain":[-9.836,24.016],"nice":false,"zero":false},"axis":null}}},
{"data":{"name":"levels"},"transform":[{"filter":{"field":"v","oneOf":[0,20]}}],"mark":{"type":"rule","color":"#ffffff","strokeWidth":2.6},"encoding":{"y":{"field":"v","type":"quantitative","scale":{"domain":[-9.836,24.016],"nice":false,"zero":false},"axis":null}}},
{"data":{"name":"days"},"mark":{"type":"rule","color":"#ffffff","strokeWidth":1.2,"opacity":0.9},"encoding":{"x":{"field":"d","type":"quantitative","scale":{"domain":[0.153,31.355],"nice":false,"zero":false},"axis":null},"y":{"datum":0},"y2":{"datum":20}}},
{"data":{"name":"m1"},"transform":[{"filter":{"field":"s","oneOf":["F","H","T"]}}],"mark":{"type":"line","interpolate":"monotone","color":"#EF8150","strokeWidth":1.4,"clip":true},"encoding":{"x":{"field":"d","type":"quantitative","scale":{"domain":[0.153,31.355],"nice":false,"zero":false},"axis":null},"y":{"field":"v","type":"quantitative","scale":{"domain":[-9.836,24.016],"nice":false,"zero":false},"axis":null},"detail":{"field":"s"}}},
{"data":{"name":"m1"},"transform":[{"filter":{"field":"s","oneOf":["G","R"]}}],"mark":{"type":"line","interpolate":"monotone","color":"#EF8150","strokeWidth":2.6,"clip":true},"encoding":{"x":{"field":"d","type":"quantitative","scale":{"domain":[0.153,31.355],"nice":false,"zero":false},"axis":null},"y":{"field":"v","type":"quantitative","scale":{"domain":[-9.836,24.016],"nice":false,"zero":false},"axis":null},"detail":{"field":"s"}}},
{"data":{"name":"m1"},"transform":[{"filter":{"field":"s","oneOf":["A","B","C","D","E"]}}],"mark":{"type":"line","interpolate":"monotone","color":"#EF8150","strokeWidth":4,"clip":true},"encoding":{"x":{"field":"d","type":"quantitative","scale":{"domain":[0.153,31.355],"nice":false,"zero":false},"axis":null},"y":{"field":"v","type":"quantitative","scale":{"domain":[-9.836,24.016],"nice":false,"zero":false},"axis":null},"detail":{"field":"s"}}},
{"data":{"name":"lab1"},"mark":{"type":"text","color":"#ffffff","font":"DejaVu Sans","fontSize":14,"baseline":"middle"},"encoding":{"x":{"field":"d","type":"quantitative","scale":{"domain":[0.153,31.355],"nice":false,"zero":false},"axis":null},"y":{"datum":-0.62},"text":{"field":"t"}}},
{"data":{"name":"tk1"},"mark":{"type":"rule","color":"#ffffff","strokeWidth":1.3},"encoding":{"x":{"field":"d","type":"quantitative","scale":{"domain":[0.153,31.355],"nice":false,"zero":false},"axis":null},"y":{"field":"a","type":"quantitative","scale":{"domain":[-9.836,24.016],"nice":false,"zero":false},"axis":null},"y2":{"field":"b"}}},
{"data":{"name":"bl1"},"mark":{"type":"rule","color":"#ffffff","strokeWidth":2.2},"encoding":{"x":{"field":"x0","type":"quantitative","scale":{"domain":[0.153,31.355],"nice":false,"zero":false},"axis":null},"x2":{"field":"x1"},"y":{"field":"b","type":"quantitative","scale":{"domain":[-9.836,24.016],"nice":false,"zero":false},"axis":null}}}
]},
{"width":2284,"height":520,"layer":[
{"data":{"name":"levels"},"transform":[{"filter":{"field":"v","lte":13}}],"mark":{"type":"rule","color":"#ffffff","strokeWidth":1.2,"opacity":0.78},"encoding":{"y":{"field":"v","type":"quantitative","scale":{"domain":[-7.009,14.181],"nice":false,"zero":false},"axis":null}}},
{"data":{"name":"levels"},"transform":[{"filter":{"field":"v","oneOf":[0,13]}}],"mark":{"type":"rule","color":"#ffffff","strokeWidth":2.6},"encoding":{"y":{"field":"v","type":"quantitative","scale":{"domain":[-7.009,14.181],"nice":false,"zero":false},"axis":null}}},
{"data":{"name":"days"},"mark":{"type":"rule","color":"#ffffff","strokeWidth":1.2,"opacity":0.9},"encoding":{"x":{"field":"d","type":"quantitative","scale":{"domain":[0.153,31.355],"nice":false,"zero":false},"axis":null},"y":{"datum":0},"y2":{"datum":13}}},
{"data":{"name":"m2"},"transform":[{"filter":{"field":"s","oneOf":["R7"]}}],"mark":{"type":"line","interpolate":"monotone","color":"#E82A3C","strokeWidth":1.4,"clip":true},"encoding":{"x":{"field":"d","type":"quantitative","scale":{"domain":[0.153,31.355],"nice":false,"zero":false},"axis":null},"y":{"field":"v","type":"quantitative","scale":{"domain":[-7.009,14.181],"nice":false,"zero":false},"axis":null},"detail":{"field":"s"}}},
{"data":{"name":"m2"},"transform":[{"filter":{"field":"s","oneOf":["R4","Z5d","R8"]}}],"mark":{"type":"line","interpolate":"monotone","color":"#E82A3C","strokeWidth":2.6,"clip":true},"encoding":{"x":{"field":"d","type":"quantitative","scale":{"domain":[0.153,31.355],"nice":false,"zero":false},"axis":null},"y":{"field":"v","type":"quantitative","scale":{"domain":[-7.009,14.181],"nice":false,"zero":false},"axis":null},"detail":{"field":"s"}}},
{"data":{"name":"m2"},"transform":[{"filter":{"field":"s","oneOf":["R1","TR","R2","R3","R5","R6","Z5e"]}}],"mark":{"type":"line","interpolate":"monotone","color":"#E82A3C","strokeWidth":4,"clip":true},"encoding":{"x":{"field":"d","type":"quantitative","scale":{"domain":[0.153,31.355],"nice":false,"zero":false},"axis":null},"y":{"field":"v","type":"quantitative","scale":{"domain":[-7.009,14.181],"nice":false,"zero":false},"axis":null},"detail":{"field":"s"}}},
{"data":{"name":"lab2"},"mark":{"type":"text","color":"#ffffff","font":"DejaVu Sans","fontSize":14,"baseline":"middle"},"encoding":{"x":{"field":"d","type":"quantitative","scale":{"domain":[0.153,31.355],"nice":false,"zero":false},"axis":null},"y":{"datum":-0.62},"text":{"field":"t"}}},
{"data":{"name":"tk2"},"mark":{"type":"rule","color":"#ffffff","strokeWidth":1.3},"encoding":{"x":{"field":"d","type":"quantitative","scale":{"domain":[0.153,31.355],"nice":false,"zero":false},"axis":null},"y":{"field":"a","type":"quantitative","scale":{"domain":[-7.009,14.181],"nice":false,"zero":false},"axis":null},"y2":{"field":"b"}}},
{"data":{"name":"bl2"},"mark":{"type":"rule","color":"#ffffff","strokeWidth":2.2},"encoding":{"x":{"field":"x0","type":"quantitative","scale":{"domain":[0.153,31.355],"nice":false,"zero":false},"axis":null},"x2":{"field":"x1"},"y":{"field":"b","type":"quantitative","scale":{"domain":[-7.009,14.181],"nice":false,"zero":false},"axis":null}}}
]},
{"width":2284,"height":630,"layer":[
{"data":{"name":"levels"},"transform":[{"filter":{"field":"v","lte":13}}],"mark":{"type":"rule","color":"#ffffff","strokeWidth":1.2,"opacity":0.78},"encoding":{"y":{"field":"v","type":"quantitative","scale":{"domain":[-11.933,13.902],"nice":false,"zero":false},"axis":null}}},
{"data":{"name":"levels"},"transform":[{"filter":{"field":"v","oneOf":[0,13]}}],"mark":{"type":"rule","color":"#ffffff","strokeWidth":2.6},"encoding":{"y":{"field":"v","type":"quantitative","scale":{"domain":[-11.933,13.902],"nice":false,"zero":false},"axis":null}}},
{"data":{"name":"days"},"mark":{"type":"rule","color":"#ffffff","strokeWidth":1.2,"opacity":0.9},"encoding":{"x":{"field":"d","type":"quantitative","scale":{"domain":[0.153,31.355],"nice":false,"zero":false},"axis":null},"y":{"datum":0},"y2":{"datum":13}}},
{"data":{"name":"m3"},"transform":[{"filter":{"field":"s","oneOf":["L12","L14"]}}],"mark":{"type":"line","interpolate":"monotone","color":"#EF8150","strokeWidth":1.4,"clip":true},"encoding":{"x":{"field":"d","type":"quantitative","scale":{"domain":[0.153,31.355],"nice":false,"zero":false},"axis":null},"y":{"field":"v","type":"quantitative","scale":{"domain":[-11.933,13.902],"nice":false,"zero":false},"axis":null},"detail":{"field":"s"}}},
{"data":{"name":"m3"},"transform":[{"filter":{"field":"s","oneOf":["L3","L9","L10"]}}],"mark":{"type":"line","interpolate":"monotone","color":"#EF8150","strokeWidth":2.6,"clip":true},"encoding":{"x":{"field":"d","type":"quantitative","scale":{"domain":[0.153,31.355],"nice":false,"zero":false},"axis":null},"y":{"field":"v","type":"quantitative","scale":{"domain":[-11.933,13.902],"nice":false,"zero":false},"axis":null},"detail":{"field":"s"}}},
{"data":{"name":"m3"},"transform":[{"filter":{"field":"s","oneOf":["L1","L2","L4","L5","L6","L7","L8","L11","L13"]}}],"mark":{"type":"line","interpolate":"monotone","color":"#EF8150","strokeWidth":4,"clip":true},"encoding":{"x":{"field":"d","type":"quantitative","scale":{"domain":[0.153,31.355],"nice":false,"zero":false},"axis":null},"y":{"field":"v","type":"quantitative","scale":{"domain":[-11.933,13.902],"nice":false,"zero":false},"axis":null},"detail":{"field":"s"}}},
{"data":{"name":"lab3"},"mark":{"type":"text","color":"#ffffff","font":"DejaVu Sans","fontSize":14,"baseline":"middle"},"encoding":{"x":{"field":"d","type":"quantitative","scale":{"domain":[0.153,31.355],"nice":false,"zero":false},"axis":null},"y":{"datum":-0.66},"text":{"field":"t"}}},
{"data":{"name":"tk3"},"mark":{"type":"rule","color":"#ffffff","strokeWidth":1.3},"encoding":{"x":{"field":"d","type":"quantitative","scale":{"domain":[0.153,31.355],"nice":false,"zero":false},"axis":null},"y":{"field":"a","type":"quantitative","scale":{"domain":[-11.933,13.902],"nice":false,"zero":false},"axis":null},"y2":{"field":"b"}}},
{"data":{"name":"bl3"},"mark":{"type":"rule","color":"#ffffff","strokeWidth":2.2},"encoding":{"x":{"field":"x0","type":"quantitative","scale":{"domain":[0.153,31.355],"nice":false,"zero":false},"axis":null},"x2":{"field":"x1"},"y":{"field":"b","type":"quantitative","scale":{"domain":[-11.933,13.902],"nice":false,"zero":false},"axis":null}}}
]},
{"width":2284,"height":540,"layer":[
{"data":{"name":"levels"},"transform":[{"filter":{"field":"v","lte":11}}],"mark":{"type":"rule","color":"#ffffff","strokeWidth":1.2,"opacity":0.78},"encoding":{"y":{"field":"v","type":"quantitative","scale":{"domain":[-10.018,12.063],"nice":false,"zero":false},"axis":null}}},
{"data":{"name":"levels"},"transform":[{"filter":{"field":"v","oneOf":[0,11]}}],"mark":{"type":"rule","color":"#ffffff","strokeWidth":2.6},"encoding":{"y":{"field":"v","type":"quantitative","scale":{"domain":[-10.018,12.063],"nice":false,"zero":false},"axis":null}}},
{"data":{"name":"days"},"mark":{"type":"rule","color":"#ffffff","strokeWidth":1.2,"opacity":0.9},"encoding":{"x":{"field":"d","type":"quantitative","scale":{"domain":[0.153,31.355],"nice":false,"zero":false},"axis":null},"y":{"datum":0},"y2":{"datum":11}}},
{"data":{"name":"m4"},"transform":[{"filter":{"field":"s","oneOf":["K3","Kv"]}}],"mark":{"type":"line","interpolate":"monotone","color":"#E82A3C","strokeWidth":1.4,"clip":true},"encoding":{"x":{"field":"d","type":"quantitative","scale":{"domain":[0.153,31.355],"nice":false,"zero":false},"axis":null},"y":{"field":"v","type":"quantitative","scale":{"domain":[-10.018,12.063],"nice":false,"zero":false},"axis":null},"detail":{"field":"s"}}},
{"data":{"name":"m4"},"transform":[{"filter":{"field":"s","oneOf":["K1","Kt"]}}],"mark":{"type":"line","interpolate":"monotone","color":"#E82A3C","strokeWidth":2.6,"clip":true},"encoding":{"x":{"field":"d","type":"quantitative","scale":{"domain":[0.153,31.355],"nice":false,"zero":false},"axis":null},"y":{"field":"v","type":"quantitative","scale":{"domain":[-10.018,12.063],"nice":false,"zero":false},"axis":null},"detail":{"field":"s"}}},
{"data":{"name":"m4"},"transform":[{"filter":{"field":"s","oneOf":["K2","KA","K5","K6","K7","Kr","Ku","Kp"]}}],"mark":{"type":"line","interpolate":"monotone","color":"#E82A3C","strokeWidth":4,"clip":true},"encoding":{"x":{"field":"d","type":"quantitative","scale":{"domain":[0.153,31.355],"nice":false,"zero":false},"axis":null},"y":{"field":"v","type":"quantitative","scale":{"domain":[-10.018,12.063],"nice":false,"zero":false},"axis":null},"detail":{"field":"s"}}},
{"data":{"name":"lab4"},"mark":{"type":"text","color":"#ffffff","font":"DejaVu Sans","fontSize":14,"baseline":"middle"},"encoding":{"x":{"field":"d","type":"quantitative","scale":{"domain":[0.153,31.355],"nice":false,"zero":false},"axis":null},"y":{"datum":-0.58},"text":{"field":"t"}}},
{"data":{"name":"tk4"},"mark":{"type":"rule","color":"#ffffff","strokeWidth":1.3},"encoding":{"x":{"field":"d","type":"quantitative","scale":{"domain":[0.153,31.355],"nice":false,"zero":false},"axis":null},"y":{"field":"a","type":"quantitative","scale":{"domain":[-10.018,12.063],"nice":false,"zero":false},"axis":null},"y2":{"field":"b"}}},
{"data":{"name":"bl4"},"mark":{"type":"rule","color":"#ffffff","strokeWidth":2.2},"encoding":{"x":{"field":"x0","type":"quantitative","scale":{"domain":[0.153,31.355],"nice":false,"zero":false},"axis":null},"x2":{"field":"x1"},"y":{"field":"b","type":"quantitative","scale":{"domain":[-10.018,12.063],"nice":false,"zero":false},"axis":null}}}
]},
{"width":2284,"height":470,"layer":[
{"data":{"name":"levels"},"transform":[{"filter":{"field":"v","lte":12}}],"mark":{"type":"rule","color":"#ffffff","strokeWidth":1.2,"opacity":0.78},"encoding":{"y":{"field":"v","type":"quantitative","scale":{"domain":[-6.329,12.986],"nice":false,"zero":false},"axis":null}}},
{"data":{"name":"levels"},"transform":[{"filter":{"field":"v","oneOf":[0,12]}}],"mark":{"type":"rule","color":"#ffffff","strokeWidth":2.6},"encoding":{"y":{"field":"v","type":"quantitative","scale":{"domain":[-6.329,12.986],"nice":false,"zero":false},"axis":null}}},
{"data":{"name":"days"},"mark":{"type":"rule","color":"#ffffff","strokeWidth":1.2,"opacity":0.9},"encoding":{"x":{"field":"d","type":"quantitative","scale":{"domain":[0.153,31.355],"nice":false,"zero":false},"axis":null},"y":{"datum":0},"y2":{"datum":12}}},
{"data":{"name":"m5"},"transform":[{"filter":{"field":"s","oneOf":["P8","P10"]}}],"mark":{"type":"line","interpolate":"monotone","color":"#EF8150","strokeWidth":1.4,"clip":true},"encoding":{"x":{"field":"d","type":"quantitative","scale":{"domain":[0.153,31.355],"nice":false,"zero":false},"axis":null},"y":{"field":"v","type":"quantitative","scale":{"domain":[-6.329,12.986],"nice":false,"zero":false},"axis":null},"detail":{"field":"s"}}},
{"data":{"name":"m5"},"transform":[{"filter":{"field":"s","oneOf":["P7","P9"]}}],"mark":{"type":"line","interpolate":"monotone","color":"#EF8150","strokeWidth":2.6,"clip":true},"encoding":{"x":{"field":"d","type":"quantitative","scale":{"domain":[0.153,31.355],"nice":false,"zero":false},"axis":null},"y":{"field":"v","type":"quantitative","scale":{"domain":[-6.329,12.986],"nice":false,"zero":false},"axis":null},"detail":{"field":"s"}}},
{"data":{"name":"m5"},"transform":[{"filter":{"field":"s","oneOf":["P1","P2","P3","P4","P5","P6"]}}],"mark":{"type":"line","interpolate":"monotone","color":"#EF8150","strokeWidth":4,"clip":true},"encoding":{"x":{"field":"d","type":"quantitative","scale":{"domain":[0.153,31.355],"nice":false,"zero":false},"axis":null},"y":{"field":"v","type":"quantitative","scale":{"domain":[-6.329,12.986],"nice":false,"zero":false},"axis":null},"detail":{"field":"s"}}},
{"data":{"name":"lab5"},"mark":{"type":"text","color":"#ffffff","font":"DejaVu Sans","fontSize":14,"baseline":"middle"},"encoding":{"x":{"field":"d","type":"quantitative","scale":{"domain":[0.153,31.355],"nice":false,"zero":false},"axis":null},"y":{"datum":-0.66},"text":{"field":"t"}}},
{"data":{"name":"tk5"},"mark":{"type":"rule","color":"#ffffff","strokeWidth":1.3},"encoding":{"x":{"field":"d","type":"quantitative","scale":{"domain":[0.153,31.355],"nice":false,"zero":false},"axis":null},"y":{"field":"a","type":"quantitative","scale":{"domain":[-6.329,12.986],"nice":false,"zero":false},"axis":null},"y2":{"field":"b"}}},
{"data":{"name":"bl5"},"mark":{"type":"rule","color":"#ffffff","strokeWidth":2.2},"encoding":{"x":{"field":"x0","type":"quantitative","scale":{"domain":[0.153,31.355],"nice":false,"zero":false},"axis":null},"x2":{"field":"x1"},"y":{"field":"b","type":"quantitative","scale":{"domain":[-6.329,12.986],"nice":false,"zero":false},"axis":null}}}
]},
{"width":2284,"height":241,"layer":[
{"data":{"values":[{"t":"MOUVEMENTS MÉDITERRANÉENS"}]},"mark":{"type":"text","align":"left","baseline":"alphabetic","font":"DejaVu Serif","fontWeight":"bold","fontSize":63.5,"color":"#ffffff"},"encoding":{"x":{"datum":2.79,"scale":{"domain":[0.153,31.355],"nice":false,"zero":false},"axis":null},"y":{"datum":-0.18,"scale":{"domain":[-1,1],"nice":false,"zero":false},"axis":null},"text":{"field":"t"}}},
{"data":{"values":[{"t":"1886"}]},"mark":{"type":"text","align":"left","baseline":"alphabetic","font":"DejaVu Serif","fontSize":92,"color":"#ffffff"},"encoding":{"x":{"datum":26.5},"y":{"datum":-0.26},"text":{"field":"t"}}}
]}
]
}
